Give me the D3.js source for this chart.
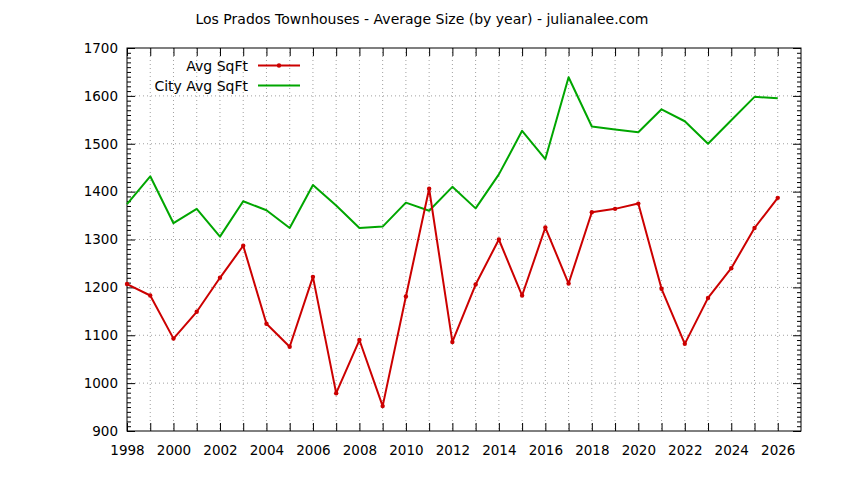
<!DOCTYPE html>
<html>
<head>
<meta charset="utf-8">
<script src="https://cdn.jsdelivr.net/npm/d3@7"></script>
<style>
  body { margin: 0; background: #fff; }
  svg text { font-family: "DejaVu Sans", Verdana, sans-serif; fill: #000; }
  .axis path { display: none; }
  .axis line { stroke: #000; }
</style>
</head>
<body>
<div id="chart"></div>
<script>
// data
var years = d3.range(1998, 2027);
var avgSqft = [1207, 1183, 1093, 1149, 1220, 1287, 1124, 1076, 1222, 979,
               1090, 952, 1181, 1406, 1086, 1206, 1300, 1183, 1325, 1208,
               1357, 1364, 1375, 1197, 1082, 1178, 1240, 1324, 1387];
var cityAvgSqft = [1374, 1432, 1334, 1364, 1306, 1380, 1361, 1324, 1414, 1371,
                   1324, 1327, 1377, 1360, 1410, 1365, 1436, 1527, 1468, 1639,
                   1536, 1530, 1524, 1572, 1547, 1500, 1549, 1598, 1595];
var yTicks = [900, 1000, 1100, 1200, 1300, 1400, 1500, 1600, 1700];
var xLabelYears = [1998, 2000, 2002, 2004, 2006, 2008, 2010, 2012, 2014, 2016, 2018, 2020, 2022, 2024, 2026];
var series = [
  {name: "Avg SqFt", values: avgSqft, color: "#cc0000", points: true},
  {name: "City Avg SqFt", values: cityAvgSqft, color: "#00a600", points: false}
];

var W = 844, H = 480;
var margin = {top: 48, right: 43, bottom: 49, left: 127};
var width = W - margin.left - margin.right,
    height = H - margin.top - margin.bottom;

var svg = d3.select("#chart").append("svg")
    .attr("width", W).attr("height", H);

svg.append("text")
    .attr("x", W / 2).attr("y", 24)
    .attr("text-anchor", "middle")
    .style("font-size", "14px")
    .text("Los Prados Townhouses - Average Size (by year) - julianalee.com");

var g = svg.append("g")
    .attr("transform", "translate(" + margin.left + "," + margin.top + ")");

var x = d3.scaleLinear().domain([1998, 2027]).range([0, width]);
var y = d3.scaleLinear().domain([900, 1700]).range([height, 0]);

// grid
g.append("g").selectAll("line")
  .data(yTicks.slice(1, -1))
  .enter().append("line")
    .attr("x1", 0).attr("x2", width)
    .attr("y1", d => y(d)).attr("y2", d => y(d))
    .attr("stroke", "#a0a0a0").attr("stroke-dasharray", "1,3");
g.append("g").selectAll("line")
  .data(years.slice(1))
  .enter().append("line")
    .attr("x1", d => x(d)).attr("x2", d => x(d))
    .attr("y1", 0).attr("y2", height)
    .attr("stroke", "#a0a0a0").attr("stroke-dasharray", "1,3");

var minorY = d3.range(910, 1700, 10).filter(d => d % 100 != 0);

// axes (ticks point inward, mirrored)
g.append("g").attr("class", "axis")
    .call(d3.axisLeft(y).tickValues(yTicks).tickSize(-8).tickPadding(9).tickFormat(d3.format("d")))
    .selectAll("text").style("font-size", "13.5px");
g.append("g").attr("class", "axis")
    .call(d3.axisLeft(y).tickValues(minorY).tickSize(-4).tickFormat(""));
g.append("g").attr("class", "axis")
    .attr("transform", "translate(" + width + ",0)")
    .call(d3.axisRight(y).tickValues(yTicks).tickSize(-8).tickFormat(""));
g.append("g").attr("class", "axis")
    .attr("transform", "translate(" + width + ",0)")
    .call(d3.axisRight(y).tickValues(minorY).tickSize(-4).tickFormat(""));

g.append("g").attr("class", "axis")
    .attr("transform", "translate(0," + height + ")")
    .call(d3.axisBottom(x).tickValues(years).tickSize(-8).tickPadding(14)
      .tickFormat(d => xLabelYears.indexOf(d) >= 0 ? d : ""))
    .selectAll("text").style("font-size", "13.5px");
g.append("g").attr("class", "axis")
    .call(d3.axisTop(x).tickValues(years).tickSize(-8).tickFormat(""));

// border
g.append("rect")
    .attr("width", width).attr("height", height)
    .attr("fill", "none").attr("stroke", "#000");

// lines
var line = d3.line()
    .x((d, i) => x(years[i]))
    .y(d => y(d));

series.slice().reverse().forEach(function(s) {
  g.append("path")
      .datum(s.values)
      .attr("fill", "none")
      .attr("stroke", s.color)
      .attr("stroke-width", 2)
      .attr("stroke-linejoin", "round")
      .attr("d", line);
  if (s.points) {
    g.append("g").selectAll("circle")
      .data(s.values)
      .enter().append("circle")
        .attr("cx", (d, i) => x(years[i]))
        .attr("cy", d => y(d))
        .attr("r", 2.2)
        .attr("fill", s.color);
  }
});

// legend
var legend = svg.append("g");
series.forEach(function(s, i) {
  var ly = 65.5 + i * 20;
  legend.append("text")
      .attr("x", 248).attr("y", ly + 5)
      .attr("text-anchor", "end")
      .style("font-size", "14px")
      .text(s.name);
  legend.append("line")
      .attr("x1", 258).attr("x2", 300)
      .attr("y1", ly).attr("y2", ly)
      .attr("stroke", s.color).attr("stroke-width", 2);
  if (s.points) {
    legend.append("circle")
        .attr("cx", 279).attr("cy", ly)
        .attr("r", 2.2)
        .attr("fill", s.color);
  }
});
</script>
</body>
</html>
